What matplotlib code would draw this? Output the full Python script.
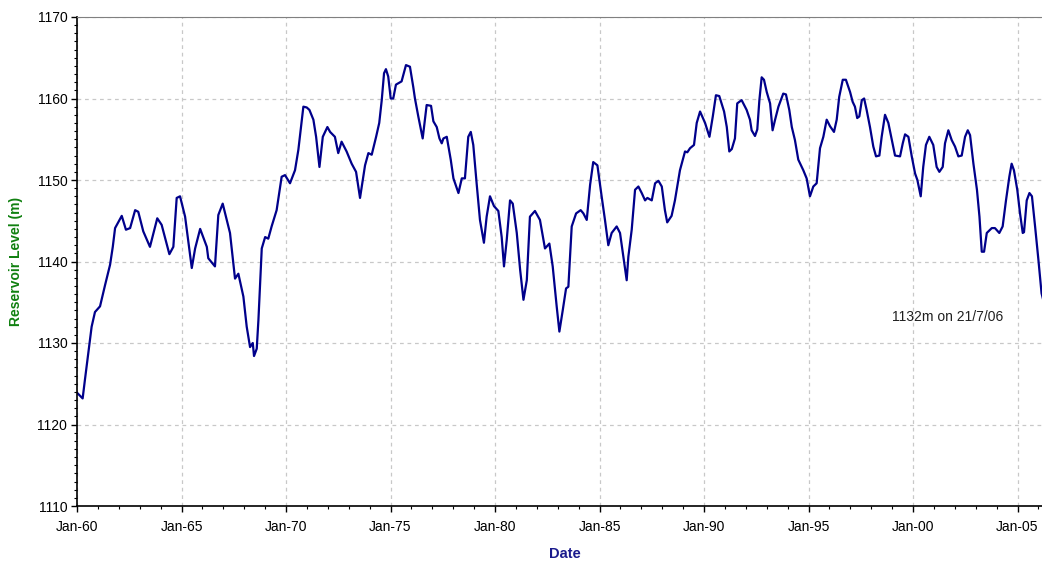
from datetime import datetime, timedelta
from matplotlib import pyplot as plt
import matplotlib.dates as mdates
from matplotlib.ticker import MultipleLocator

plt.rcParams['font.family'] = ['Liberation Sans', 'DejaVu Sans']

# decimal year of each reading
years = [
    1960.00, 1960.27, 1960.38, 1960.54, 1960.70, 1960.86, 1961.10, 1961.34, 1961.58, 1961.71,
    1961.82, 1962.14, 1962.34, 1962.54, 1962.78, 1962.93, 1963.17, 1963.49, 1963.84, 1964.05,
    1964.42, 1964.61, 1964.77, 1964.93, 1965.17, 1965.49, 1965.65, 1965.89, 1966.21, 1966.28,
    1966.60, 1966.76, 1966.97, 1967.32, 1967.56, 1967.72, 1967.96, 1968.12, 1968.28, 1968.41,
    1968.47, 1968.60, 1968.68, 1968.84, 1969.00, 1969.15, 1969.31, 1969.55, 1969.79, 1969.95,
    1970.19, 1970.43, 1970.59, 1970.83, 1970.99, 1971.12, 1971.31, 1971.44, 1971.60, 1971.76,
    1971.98, 1972.11, 1972.34, 1972.50, 1972.66, 1972.90, 1973.14, 1973.35, 1973.54, 1973.78,
    1973.94, 1974.10, 1974.31, 1974.46, 1974.58, 1974.69, 1974.78, 1974.89, 1975.01, 1975.13,
    1975.26, 1975.53, 1975.74, 1975.93, 1976.09, 1976.17, 1976.33, 1976.54, 1976.73, 1976.94,
    1977.05, 1977.21, 1977.34, 1977.45, 1977.53, 1977.69, 1977.88, 1978.01, 1978.25, 1978.41,
    1978.56, 1978.72, 1978.84, 1978.96, 1979.12, 1979.28, 1979.47, 1979.60, 1979.76, 1979.95,
    1980.16, 1980.32, 1980.43, 1980.56, 1980.72, 1980.85, 1981.04, 1981.20, 1981.36, 1981.52,
    1981.67, 1981.91, 1982.15, 1982.39, 1982.60, 1982.76, 1982.95, 1983.08, 1983.24, 1983.40,
    1983.51, 1983.67, 1983.88, 1984.10, 1984.23, 1984.39, 1984.55, 1984.70, 1984.90, 1985.10,
    1985.26, 1985.42, 1985.58, 1985.82, 1985.98, 1986.14, 1986.30, 1986.38, 1986.54, 1986.70,
    1986.86, 1987.02, 1987.18, 1987.29, 1987.50, 1987.66, 1987.82, 1987.98, 1988.13, 1988.24,
    1988.45, 1988.61, 1988.85, 1989.09, 1989.20, 1989.33, 1989.52, 1989.65, 1989.81, 1990.05,
    1990.26, 1990.42, 1990.57, 1990.73, 1990.96, 1991.09, 1991.21, 1991.33, 1991.48, 1991.59,
    1991.80, 1992.04, 1992.20, 1992.28, 1992.44, 1992.55, 1992.65, 1992.76, 1992.87, 1993.00,
    1993.16, 1993.28, 1993.40, 1993.56, 1993.79, 1993.92, 1994.08, 1994.20, 1994.35, 1994.51,
    1994.75, 1994.91, 1995.07, 1995.23, 1995.39, 1995.55, 1995.71, 1995.87, 1996.03, 1996.22,
    1996.35, 1996.47, 1996.64, 1996.79, 1996.99, 1997.11, 1997.22, 1997.33, 1997.43, 1997.55,
    1997.66, 1997.78, 1997.94, 1998.10, 1998.23, 1998.39, 1998.50, 1998.66, 1998.82, 1998.98,
    1999.14, 1999.38, 1999.51, 1999.62, 1999.78, 1999.94, 2000.10, 2000.21, 2000.37, 2000.49,
    2000.62, 2000.78, 2000.97, 2001.13, 2001.26, 2001.42, 2001.53, 2001.69, 2001.85, 2002.01,
    2002.17, 2002.33, 2002.49, 2002.62, 2002.73, 2002.89, 2003.06, 2003.18, 2003.29, 2003.40,
    2003.53, 2003.77, 2003.92, 2004.13, 2004.29, 2004.45, 2004.61, 2004.72, 2004.83, 2004.99,
    2005.12, 2005.25, 2005.31, 2005.44, 2005.57, 2005.69, 2005.84, 2006.00, 2006.15, 2006.55,
]

# reservoir level (m)
levels = [
    1123.9, 1123.2, 1125.5, 1128.7, 1132.0, 1133.8, 1134.5, 1137.1, 1139.6, 1141.8,
    1144.1, 1145.6, 1143.9, 1144.1, 1146.3, 1146.1, 1143.7, 1141.8, 1145.3, 1144.5,
    1140.9, 1141.8, 1147.8, 1148.0, 1145.5, 1139.2, 1141.6, 1144.0, 1141.8, 1140.4,
    1139.4, 1145.7, 1147.1, 1143.5, 1137.9, 1138.5, 1135.7, 1132.0, 1129.5, 1130.0,
    1128.4, 1129.3, 1132.8, 1141.6, 1143.0, 1142.8, 1144.3, 1146.3, 1150.4, 1150.6,
    1149.6, 1151.2, 1153.7, 1159.0, 1158.9, 1158.6, 1157.4, 1155.3, 1151.6, 1155.3,
    1156.5, 1155.9, 1155.3, 1153.3, 1154.7, 1153.5, 1152.0, 1151.0, 1147.8, 1151.8,
    1153.3, 1153.1, 1155.3, 1157.0, 1159.8, 1163.1, 1163.6, 1162.7, 1160.0, 1160.0,
    1161.7, 1162.1, 1164.1, 1163.9, 1161.4, 1160.0, 1157.8, 1155.1, 1159.2, 1159.1,
    1157.2, 1156.5, 1155.1, 1154.5, 1155.1, 1155.3, 1152.5, 1150.2, 1148.4, 1150.2,
    1150.2, 1155.3, 1155.9, 1154.3, 1149.6, 1145.1, 1142.3, 1145.5, 1148.0, 1146.8,
    1146.2, 1143.0, 1139.4, 1142.6, 1147.5, 1147.1, 1143.5, 1139.0, 1135.3, 1137.7,
    1145.5, 1146.2, 1145.1, 1141.6, 1142.2, 1139.4, 1134.5, 1131.4, 1134.0, 1136.7,
    1136.9, 1144.3, 1145.9, 1146.3, 1145.9, 1145.1, 1149.4, 1152.2, 1151.8, 1148.0,
    1145.1, 1142.0, 1143.5, 1144.3, 1143.5, 1140.6, 1137.7, 1140.6, 1143.9, 1148.8,
    1149.2, 1148.4, 1147.5, 1147.8, 1147.5, 1149.6, 1149.9, 1149.2, 1146.3, 1144.8,
    1145.6, 1147.5, 1151.2, 1153.5, 1153.4, 1153.9, 1154.3, 1157.0, 1158.4, 1157.0,
    1155.3, 1157.8, 1160.4, 1160.3, 1158.4, 1156.5, 1153.5, 1153.8, 1155.1, 1159.4,
    1159.8, 1158.6, 1157.4, 1156.1, 1155.4, 1156.2, 1159.8, 1162.6, 1162.3, 1160.8,
    1159.4, 1156.1, 1157.4, 1159.0, 1160.6, 1160.5, 1158.6, 1156.5, 1154.9, 1152.5,
    1151.2, 1150.2, 1148.0, 1149.2, 1149.6, 1153.9, 1155.3, 1157.4, 1156.6, 1155.9,
    1157.4, 1160.2, 1162.3, 1162.3, 1160.8, 1159.6, 1159.0, 1157.6, 1157.8, 1159.8,
    1160.0, 1158.6, 1156.5, 1154.1, 1152.9, 1153.0, 1155.3, 1158.0, 1157.0, 1155.0,
    1153.0, 1152.9, 1154.5, 1155.6, 1155.3, 1152.9, 1150.8, 1150.0, 1148.0, 1151.6,
    1154.3, 1155.3, 1154.3, 1151.6, 1151.0, 1151.6, 1154.5, 1156.1, 1154.9, 1154.1,
    1152.9, 1153.0, 1155.3, 1156.1, 1155.5, 1152.0, 1148.8, 1145.5, 1141.2, 1141.2,
    1143.5, 1144.1, 1144.1, 1143.5, 1144.3, 1147.5, 1150.4, 1152.0, 1151.2, 1148.8,
    1145.9, 1143.5, 1143.6, 1147.5, 1148.4, 1148.0, 1144.3, 1140.2, 1136.1, 1132.0,
]

last_label = '1132m on 21/7/06'


def to_date(y):
    base = datetime(int(y), 1, 1)
    return base + timedelta(days=(y - int(y)) * 365.25)


dates = [to_date(y) for y in years]

fig = plt.figure(figsize=(10.42, 5.62), dpi=100)
# right edge runs past the figure, the original picture is cut there
ax = fig.add_axes([77 / 1042, 56 / 562, 975 / 1042, 489 / 562])

ax.plot(dates, levels, color='#00008b', lw=1.6)
ax.plot(dates[-1], levels[-1], marker='x', color='#707070', ms=6, mew=1, clip_on=False)
ax.annotate(last_label, xy=(dates[-1], levels[-1]), xytext=(-47, 10),
            textcoords='offset pixels', ha='right', va='center', fontsize=10, color='#202020')

ax.set_xlim(datetime(1960, 1, 1), to_date(2006.65))
ax.set_ylim(1110, 1170)

ax.xaxis.set_major_locator(mdates.YearLocator(5))
ax.xaxis.set_minor_locator(mdates.YearLocator(1))
ax.xaxis.set_major_formatter(mdates.DateFormatter('%b-%y'))
ax.yaxis.set_major_locator(MultipleLocator(10))
ax.yaxis.set_minor_locator(MultipleLocator(1))

ax.tick_params(which='major', length=4, width=1, labelsize=10, colors='black')
ax.tick_params(axis='x', which='major', pad=6)
ax.tick_params(axis='y', which='major', pad=3)
ax.tick_params(which='minor', length=2.5, width=0.8)

ax.grid(True, which='major', color='#c8c8c8', linestyle=(0, (3, 3)), lw=0.9)
ax.set_axisbelow(True)

ax.spines['top'].set_color('#808080')
ax.spines['right'].set_visible(False)
ax.spines['left'].set_linewidth(1.2)
ax.spines['bottom'].set_linewidth(1.2)

ax.set_xlabel('Date', fontsize=10.5, fontweight='bold', color='#1a1a8c')
ax.xaxis.set_label_coords(0.5, -0.083)
ax.set_ylabel('Reservoir Level (m)', fontsize=10, fontweight='bold', color='#108010')
ax.yaxis.set_label_coords(-0.055, 0.5)

fig.savefig('out.png', dpi=100)
